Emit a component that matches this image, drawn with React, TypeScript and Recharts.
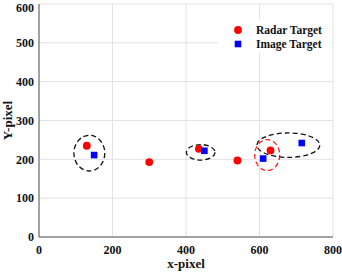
import {
  CartesianGrid,
  ReferenceArea,
  Scatter,
  ScatterChart,
  XAxis,
  YAxis
} from 'recharts';

const radarTargets = [
  { x: 130, y: 235 },
  { x: 300, y: 193 },
  { x: 435, y: 227 },
  { x: 540, y: 197 },
  { x: 630, y: 223 }
];

const imageTargets = [
  { x: 150, y: 211 },
  { x: 450, y: 222 },
  { x: 610, y: 202 },
  { x: 715, y: 242 }
];

// matching regions, given as bounding boxes in data units
const matchRegions = [
  { x1: 95, x2: 179, y1: 170, y2: 262, color: '#111111' },
  { x1: 401, x2: 479, y1: 198, y2: 238, color: '#111111' },
  { x1: 587, x2: 655, y1: 171, y2: 251, color: '#ff2020' },
  { x1: 593, x2: 764, y1: 205, y2: 268, color: '#111111' }
];

const legendItems = ['Radar Target', 'Image Target'];

const xTicks = [0, 200, 400, 600, 800];
const yTicks = [0, 100, 200, 300, 400, 500, 600];

const FONT = 'Liberation Serif';
const TEXT = '#111';
const tickStyle = { fontFamily: FONT, fontWeight: 700, fontSize: 12, fill: TEXT };

const RED = '#ff0000';
const BLUE = '#0000ff';

function Dot(props: any) {
  return <circle cx={props.cx} cy={props.cy} r={3.9} fill={RED} />;
}

function Square(props: any) {
  return <rect x={props.cx - 3.3} y={props.cy - 3.3} width={6.6} height={6.6} fill={BLUE} />;
}

function Ellipse(color: string) {
  return (props: any) => (
    <ellipse
      cx={props.x + props.width / 2}
      cy={props.y + props.height / 2}
      rx={Math.abs(props.width) / 2}
      ry={Math.abs(props.height) / 2}
      fill="none"
      stroke={color}
      strokeWidth={1.3}
      strokeDasharray="5 3"
    />
  );
}

function LegendBox() {
  return (
    <svg
      width={113}
      height={33}
      style={{ position: 'absolute', left: 218, top: 19, background: '#fff', display: 'block' }}
    >
      {legendItems.map((label, i) => {
        const cy = 11 + i * 14;
        return (
          <g key={label}>
            {i === 0 ? (
              <circle cx={20} cy={cy} r={3.9} fill={RED} />
            ) : (
              <rect x={16.7} y={cy - 3.3} width={6.6} height={6.6} fill={BLUE} />
            )}
            <text x={38} y={cy + 4} fontFamily={FONT} fontWeight={700} fontSize={11.5} fill={TEXT}>
              {label}
            </text>
          </g>
        );
      })}
    </svg>
  );
}

export default function App() {
  return (
    <div style={{ position: 'absolute', left: 0, top: 0, width: 342, height: 273, background: '#fff' }}>
      <ScatterChart width={342} height={273} margin={{ top: 4, right: 9, bottom: 0, left: 9 }}>
        <CartesianGrid stroke="#e2e2e2" strokeWidth={1} />
        <XAxis
          type="number"
          dataKey="x"
          domain={[0, 800]}
          ticks={xTicks}
          height={36}
          tickLine={false}
          axisLine={{ stroke: '#555' }}
          tick={tickStyle}
          label={{
            content: (p: any) => (
              <text
                x={p.viewBox.x + p.viewBox.width / 2}
                y={268}
                textAnchor="middle"
                fontFamily={FONT}
                fontWeight={700}
                fontSize={13}
                fill={TEXT}
              >
                x-pixel
              </text>
            )
          }}
        />
        <YAxis
          type="number"
          dataKey="y"
          domain={[0, 600]}
          ticks={yTicks}
          width={30}
          tickLine={false}
          tickSize={3}
          tickMargin={2}
          axisLine={{ stroke: '#555' }}
          tick={tickStyle}
          label={{
            content: (p: any) => {
              const cy = p.viewBox.y + p.viewBox.height / 2;
              return (
                <text
                  x={12}
                  y={cy}
                  transform={`rotate(-90, 12, ${cy})`}
                  textAnchor="middle"
                  fontFamily={FONT}
                  fontWeight={700}
                  fontSize={13}
                  fill={TEXT}
                >
                  Y-pixel
                </text>
              );
            }
          }}
        />
        {matchRegions.map((r, i) => (
          <ReferenceArea key={i} x1={r.x1} x2={r.x2} y1={r.y1} y2={r.y2} shape={Ellipse(r.color)} />
        ))}
        <Scatter name="Radar Target" data={radarTargets} shape={Dot} isAnimationActive={false} />
        <Scatter name="Image Target" data={imageTargets} shape={Square} isAnimationActive={false} />
      </ScatterChart>
      <LegendBox />
    </div>
  );
}
